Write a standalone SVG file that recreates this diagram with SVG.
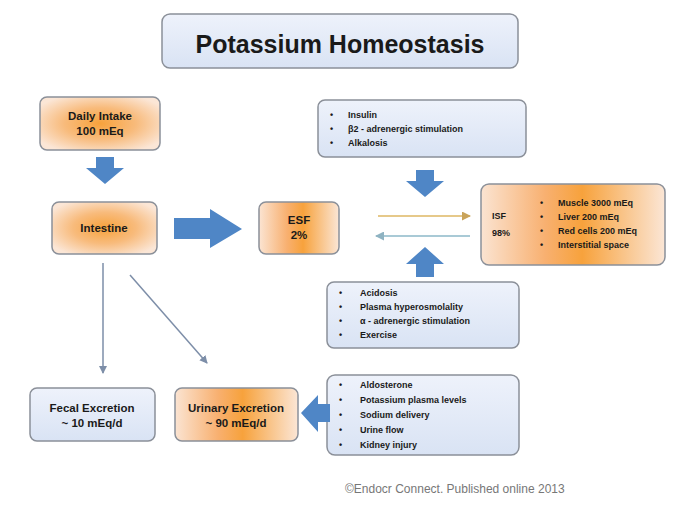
<svg xmlns="http://www.w3.org/2000/svg" width="680" height="507" viewBox="0 0 680 507">
<defs>
<linearGradient id="blue" x1="0" y1="0" x2="0" y2="1">
<stop offset="0" stop-color="#eef2fb"/><stop offset="1" stop-color="#d9e3f4"/>
</linearGradient>
<radialGradient id="orange" cx="0.5" cy="0.5" r="0.6">
<stop offset="0" stop-color="#f7a23c"/><stop offset="0.5" stop-color="#f8bb7c"/><stop offset="1" stop-color="#fbe6d6"/>
</radialGradient>
<linearGradient id="orangeH" x1="0" y1="0" x2="1" y2="0">
<stop offset="0" stop-color="#fbe4d2"/><stop offset="0.35" stop-color="#f8b070"/><stop offset="0.55" stop-color="#f7a23c"/><stop offset="1" stop-color="#fbe6d6"/>
</linearGradient>
<marker id="ah" markerWidth="8" markerHeight="8" refX="7" refY="4" orient="auto" markerUnits="userSpaceOnUse">
<path d="M0,0 L8,4 L0,8 Z" fill="#7d8ea8"/>
</marker>
<marker id="ahY" markerWidth="9" markerHeight="9" refX="8" refY="4.5" orient="auto" markerUnits="userSpaceOnUse">
<path d="M0,0 L9,4.5 L0,9 Z" fill="#c9a35a"/>
</marker>
<marker id="ahT" markerWidth="9" markerHeight="9" refX="8" refY="4.5" orient="auto" markerUnits="userSpaceOnUse">
<path d="M0,0 L9,4.5 L0,9 Z" fill="#8fb3c2"/>
</marker>
</defs>
<style>
.box{stroke:#8b9099;stroke-width:1.5}
.b{fill:url(#blue)}
.o{fill:url(#orange)}
.oh{fill:url(#orangeH)}
text{font-family:"Liberation Sans",Arial,sans-serif;font-weight:bold;fill:#1a1a1a}
.t{font-size:11.5px;text-anchor:middle}
.l{font-size:9px}
.blk{fill:#4f86c6}
.thin{stroke:#7d8ea8;stroke-width:1.5;fill:none}
</style>
<rect width="680" height="507" fill="#ffffff"/>

<g id="title">
<rect class="box b" x="162" y="14" width="356" height="54" rx="8"/>
<text x="340" y="53" font-size="25" text-anchor="middle">Potassium Homeostasis</text>
</g>

<g id="intake">
<rect class="box o" x="40" y="97" width="120" height="53" rx="7"/>
<text class="t" x="100" y="120">Daily Intake</text>
<text class="t" x="100" y="135">100 mEq</text>
</g>

<g id="intestine">
<rect class="box o" x="52" y="202" width="105" height="52" rx="7"/>
<text class="t" x="104" y="232">Intestine</text>
</g>

<g id="esf">
<rect class="box oh" x="259" y="202" width="80" height="52" rx="7"/>
<text class="t" x="299" y="224">ESF</text>
<text class="t" x="299" y="239">2%</text>
</g>

<g id="insulin">
<rect class="box b" x="318" y="100" width="208" height="57" rx="7"/>
<text class="l" x="330" y="118">•</text><text class="l" x="348" y="118">Insulin</text>
<text class="l" x="330" y="132">•</text><text class="l" x="348" y="132">β2 - adrenergic stimulation</text>
<text class="l" x="330" y="146">•</text><text class="l" x="348" y="146">Alkalosis</text>
</g>

<g id="isf">
<rect class="box oh" x="481" y="184" width="184" height="81" rx="8"/>
<text class="l" x="492" y="219">ISF</text>
<text class="l" x="492" y="236">98%</text>
<text class="l" x="540" y="206" fill="#b07040">•</text><text class="l" x="558" y="206">Muscle 3000 mEq</text>
<text class="l" x="540" y="220" fill="#b07040">•</text><text class="l" x="558" y="220">Liver 200 mEq</text>
<text class="l" x="540" y="234" fill="#b07040">•</text><text class="l" x="558" y="234">Red cells 200 mEq</text>
<text class="l" x="540" y="248" fill="#b07040">•</text><text class="l" x="558" y="248">Interstitial space</text>
</g>

<g id="acidosis">
<rect class="box b" x="327" y="282" width="192" height="66" rx="7"/>
<text class="l" x="339" y="296">•</text><text class="l" x="360" y="296">Acidosis</text>
<text class="l" x="339" y="310">•</text><text class="l" x="360" y="310">Plasma hyperosmolality</text>
<text class="l" x="339" y="324">•</text><text class="l" x="360" y="324">α - adrenergic stimulation</text>
<text class="l" x="339" y="338">•</text><text class="l" x="360" y="338">Exercise</text>
</g>

<g id="fecal">
<rect class="box b" x="30" y="388" width="125" height="53" rx="7"/>
<text class="t" x="92" y="412">Fecal Excretion</text>
<text class="t" x="92" y="427">~ 10 mEq/d</text>
</g>

<g id="urinary">
<rect class="box oh" x="175" y="388" width="123" height="53" rx="7"/>
<text class="t" x="236" y="412">Urinary Excretion</text>
<text class="t" x="236" y="427">~ 90 mEq/d</text>
</g>

<g id="aldosterone">
<rect class="box b" x="327" y="375" width="192" height="80" rx="8"/>
<text class="l" x="339" y="388">•</text><text class="l" x="360" y="388">Aldosterone</text>
<text class="l" x="339" y="403">•</text><text class="l" x="360" y="403">Potassium plasma levels</text>
<text class="l" x="339" y="418">•</text><text class="l" x="360" y="418">Sodium delivery</text>
<text class="l" x="339" y="433">•</text><text class="l" x="360" y="433">Urine flow</text>
<text class="l" x="339" y="448">•</text><text class="l" x="360" y="448">Kidney injury</text>
</g>

<g id="connectors">
<path class="blk" d="M96,157 H114 V168 H124 L105,184 L86,168 H96 Z"/>
<path class="blk" d="M174,218 H210 V209 L242,229 L210,248 V239 H174 Z"/>
<path class="blk" d="M416,170 H434 V181 H444 L425,197 L406,181 H416 Z"/>
<path class="blk" d="M416,277 H434 V264 H444 L425,247 L406,264 H416 Z"/>
<path class="blk" d="M330,404 H318 V395 L301,413 L318,432 V422 H330 Z"/>
<line x1="378" y1="216" x2="470" y2="216" stroke="#e6c98a" stroke-width="2" marker-end="url(#ahY)"/>
<line x1="470" y1="236" x2="376" y2="236" stroke="#a9cad6" stroke-width="2" marker-end="url(#ahT)"/>
<line class="thin" x1="103" y1="263" x2="103" y2="373" marker-end="url(#ah)"/>
<line class="thin" x1="130" y1="275" x2="207" y2="363" marker-end="url(#ah)"/>
</g>

<text x="345" y="493" font-size="12" style="font-weight:normal;fill:#777">©Endocr Connect. Published online 2013</text>
</svg>
